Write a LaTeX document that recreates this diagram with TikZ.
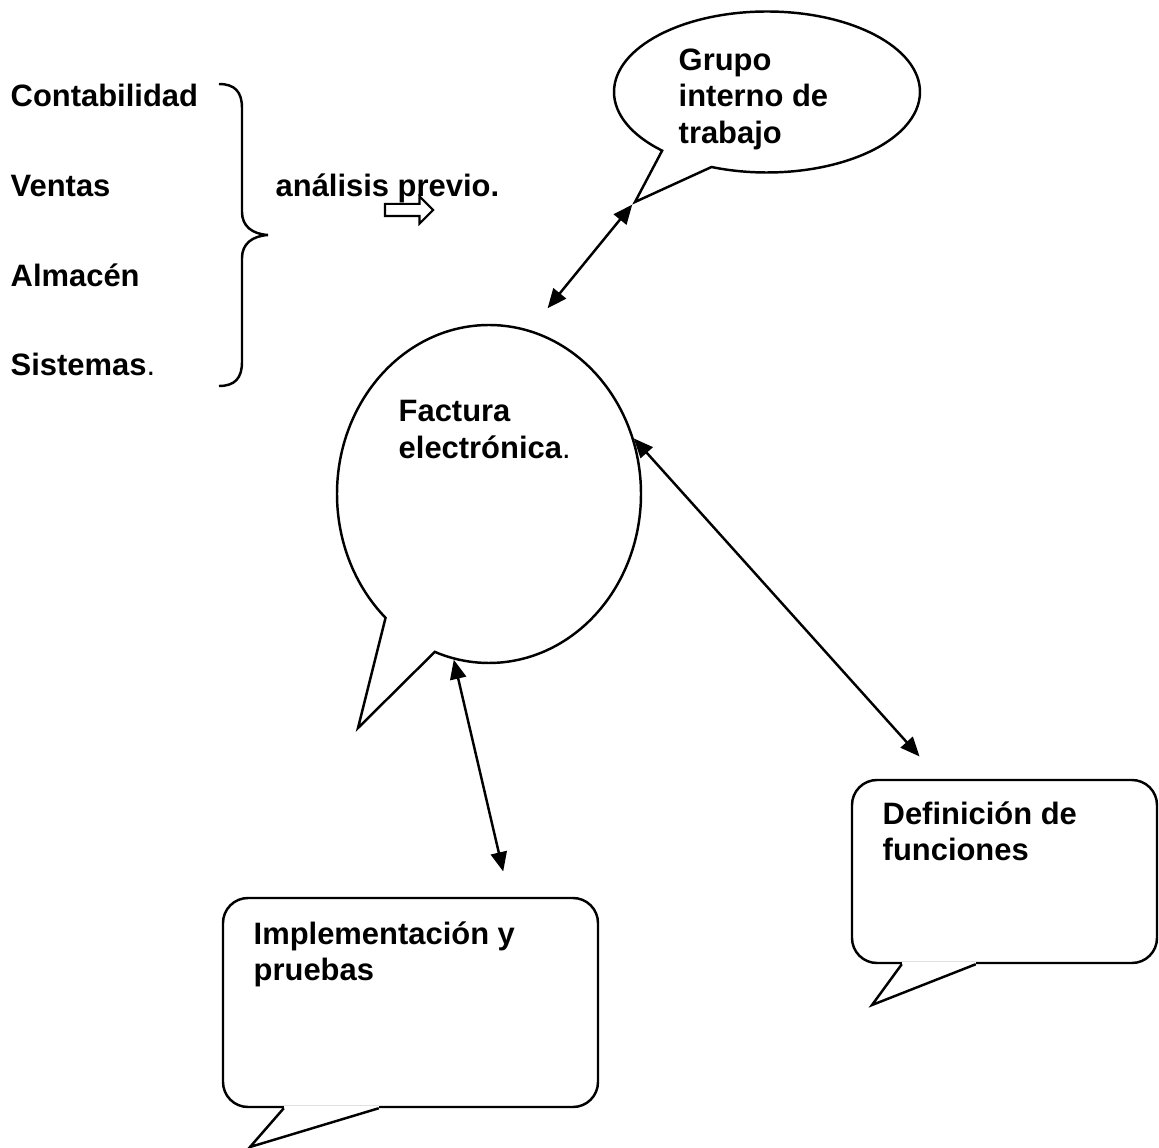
\documentclass[tikz,border=0pt]{standalone}
\usepackage{fontspec}
\setmainfont{Liberation Sans}
\usetikzlibrary{shapes.callouts,shapes.arrows,arrows.meta}

\tikzset{
  bubble/.style={draw, line width=0.7pt, fill=white},
  txt/.style={inner sep=0pt, align=left, font=\fontsize{8.8pt}{10.4pt}\selectfont\bfseries},
  link/.style={line width=0.7pt, {Triangle[length=5.5pt,width=4.6pt]}-{Triangle[length=5.5pt,width=4.6pt]}},
}

\begin{document}
\begin{tikzpicture}[x=0.1mm, y=-0.1mm]
\useasboundingbox (0,0) rectangle (1159,1148);

% areas de la empresa
\node[txt, anchor=base west] (conta) at (10,107) {Contabilidad};
\node[txt, anchor=base west] (ventas) at (10,197) {Ventas};
\node[txt, anchor=base west] (almacen) at (10,287) {Almacén};
\node[txt, anchor=base west] (sistemas) at (10,376) {Sistemas{\mdseries.}};
\draw[line width=0.7pt] (219,84) .. controls (235,84) and (242,92) .. (242,108) -- (242,212)
  .. controls (242,226) and (252,234) .. (268,235) .. controls (252,236) and (242,244) .. (242,258)
  -- (242,362) .. controls (242,378) and (235,386) .. (219,386);
\node[txt, anchor=base west] (analisis) at (275,197) {análisis previo.};
\node[draw, single arrow, line width=0.6pt, inner sep=0.5mm, minimum height=4.8mm,
  single arrow head extend=0.75mm] (hint) at (406,210) {};

% globos
\node[bubble, ellipse callout, minimum width=30.6mm, minimum height=16.1mm,
  callout absolute pointer={(635,202)}, callout pointer arc=22] (grupo) at (767,92) {};
\node[txt, anchor=north west] (grupotxt) at (678,48) {Grupo\\interno de\\trabajo};

\node[bubble, ellipse callout, minimum width=30.4mm, minimum height=33.8mm,
  callout absolute pointer={(358,728)}, callout pointer arc=22] (factura) at (489,494) {};
\node[txt, anchor=north west] (facturatxt) at (398,400) {Factura\\electrónica{\mdseries.}};

\node[bubble, rounded corners=2.5mm, minimum width=30.5mm, minimum height=18.3mm] (defin) at (1004.5,871.5) {};
\draw[white, line width=1.2pt] ([xshift=5.1mm]defin.south west) -- ([xshift=12.5mm]defin.south west);
\draw[bubble] ([xshift=5.1mm]defin.south west) -- (872,1005) -- ([xshift=12.5mm]defin.south west);
\node[txt, anchor=north west] (defintxt) at (882,801) {Definición de\\funciones};

\node[bubble, rounded corners=2.5mm, minimum width=37.5mm, minimum height=20.9mm] (impl) at (410.5,1002.5) {};
\draw[white, line width=1.2pt] ([xshift=6.2mm]impl.south west) -- ([xshift=15.7mm]impl.south west);
\draw[bubble] ([xshift=6.2mm]impl.south west) -- (250,1147) -- ([xshift=15.7mm]impl.south west);
\node[txt, anchor=north west] (impltxt) at (253,921) {Implementación y\\pruebas};

% conexiones
\draw[link, shorten >=2.8mm] (grupo.pointer) -- (factura.76);
\draw[link, shorten >=3mm] (factura.21) -- (defin.125);
\draw[link, shorten >=2.6mm] (factura.258) -- (impl.47);
\end{tikzpicture}
\end{document}
